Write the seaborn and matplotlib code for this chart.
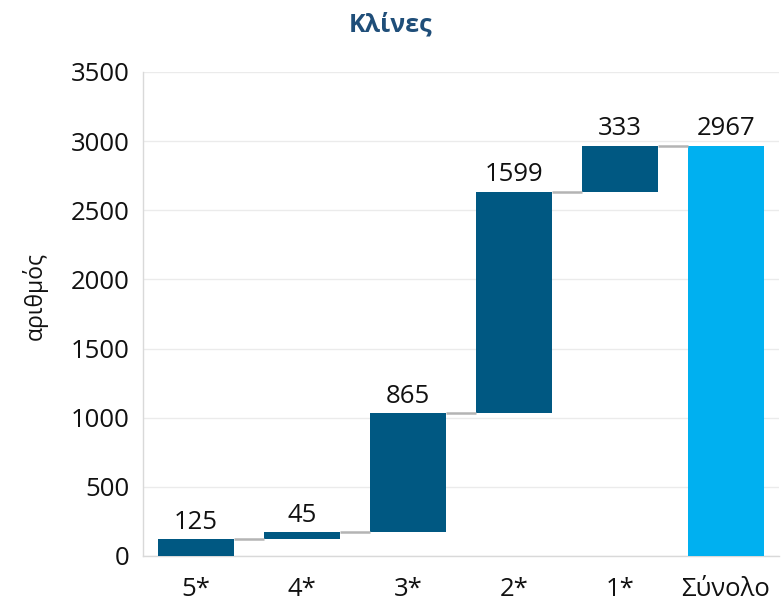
import numpy as np
import pandas as pd
import matplotlib
matplotlib.use("Agg")
import matplotlib.pyplot as plt
import seaborn as sns

categories = ["5*", "4*", "3*", "2*", "1*", "Σύνολο"]
values = [125, 45, 865, 1599, 333, 2967]
is_total = [False, False, False, False, False, True]
title = "Κλίνες"
ylabel = "αριθμός"
yticks = [0, 500, 1000, 1500, 2000, 2500, 3000, 3500]

sns.set_theme(style="white")
plt.rcParams['font.family'] = ['Open Sans', 'DejaVu Sans']

bottoms = []
run = 0
for v, t in zip(values, is_total):
    if t:
        bottoms.append(0)
    else:
        bottoms.append(run)
        run += v
tops = [b + v for b, v in zip(bottoms, values)]

dark = "#005882"
light = "#00B0F0"

df = pd.DataFrame({"cat": categories, "val": values})

fig = plt.figure(figsize=(7.82, 6.04), dpi=100)
ax = fig.add_axes([0.183, 0.0795, 0.813, 0.8015])

w = 0.71
sns.barplot(data=df, x="cat", y="val", order=categories, color=dark,
            bottom=bottoms, width=w, ax=ax, saturation=1, zorder=3,
            linewidth=0, errorbar=None)
for p, t in zip(ax.patches, is_total):
    p.set_facecolor(light if t else dark)
    p.set_edgecolor("none")

ax.set_ylim(0, 3500)
ax.set_xlim(-0.5, 5.5)
ax.set_yticks(yticks)
ax.yaxis.grid(True, color="#ebebeb", linewidth=1, zorder=0)
ax.set_axisbelow(True)

# connectors
for i in range(len(values) - 1):
    ax.hlines(tops[i], i + w / 2, i + 1 - w / 2, color="#b4b4b4", linewidth=1.8, zorder=4)

for i, (t, v) in enumerate(zip(tops, values)):
    ax.annotate(str(v), (i, t), xytext=(0, 3), textcoords="offset points",
                ha="center", va="bottom", fontsize=18.5, color="#111111")

for s in ["top", "right"]:
    ax.spines[s].set_visible(False)
for s in ["left", "bottom"]:
    ax.spines[s].set_color("#d9d9d9")
    ax.spines[s].set_linewidth(1)

ax.tick_params(axis="both", length=0, labelsize=18.5, colors="#111111")
ax.tick_params(axis="y", pad=10)
ax.tick_params(axis="x", pad=15)
ax.set_xlabel("")
ax.set_ylabel(ylabel, fontsize=16.5, color="#111111")
ax.yaxis.set_label_coords(-0.15, 0.537)
fig.text(0.5, 1 - 25 / 604, title, ha="center", va="center", fontsize=18,
         fontweight="bold", color="#1F4E79")

fig.savefig("out.png", dpi=100)
